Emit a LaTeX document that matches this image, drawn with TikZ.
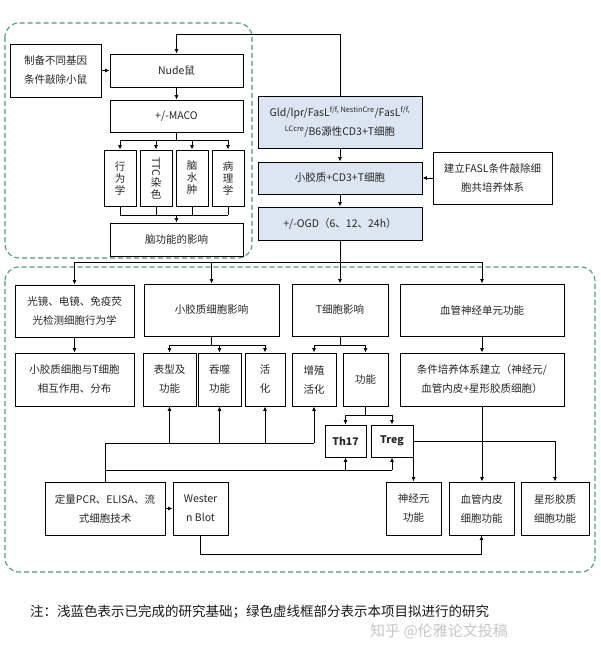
\documentclass[tikz,border=0pt]{standalone}
\usepackage{fontspec}
\setmainfont{Noto Sans CJK SC}
\usepackage{graphicx}
\usetikzlibrary{arrows.meta}
\definecolor{dgreen}{HTML}{4E9A80}
\definecolor{lblue}{HTML}{DCE6F2}
\begin{document}
\begin{tikzpicture}[x=1pt,y=-1pt,
  box/.style={draw=black, line width=0.9pt, fill=white, inner sep=1pt, align=center,
    text=black!85, font=\fontsize{10.5}{19}\selectfont},
  vbox/.style={box, font=\fontsize{10.5}{12}\selectfont},
  blue/.style={box, fill=lblue},
  sz/.style 2 args={minimum width=#1pt, minimum height=#2pt},
  ln/.style={line width=0.9pt, draw=black},
  arr/.style={ln, -{Latex[length=4.5pt,width=4pt]}},
  grp/.style={draw=dgreen, line width=1.1pt, dash pattern=on 5pt off 3pt, rounded corners=14pt}
]
\fill[white] (0,0) rectangle (600,652);
\useasboundingbox (0,0) rectangle (600,652);

% dashed groups
\draw[grp] (5,23) rectangle (252,258);
\draw[grp] (5,267) rectangle (595,572);

% top-left group
\node[box, sz={91}{53}] (gen) at (55.5,70.5) {制备不同基因\\条件敲除小鼠};
\node[box, sz={133}{33}] (nude) at (176.5,70.5) {Nude鼠};
\node[box, sz={133}{32}] (maco) at (176.5,116) {+/-MACO};
\node[vbox, sz={32}{56}] (v1) at (120,178) {行\\为\\学};
\node[vbox, sz={32}{56}] (v2) at (156,178) {\rotatebox{-90}{TTC}\\染\\色};
\node[vbox, sz={32}{56}] (v3) at (192,178) {脑\\水\\肿};
\node[vbox, sz={32}{56}] (v4) at (228,178) {病\\理\\学};
\node[box, sz={133}{33}] (brain) at (176.5,239.5) {脑功能的影响};

% blue column
\node[blue, sz={164}{52}] (gld) at (340,122) {Gld/lpr/FasL\textsuperscript{f/f, NestinCre}/FasL\textsuperscript{f/f,}\\\textsuperscript{LCcre}/B6源性CD3+T细胞};
\node[blue, sz={164}{32}] (mg) at (340,178) {小胶质+CD3+T细胞};
\node[blue, sz={164}{33}] (ogd) at (340,223.5) {+/-OGD（6、12、24h）};
\node[box, sz={119}{52}] (fasl) at (492.5,178) {建立FASL条件敲除细\\胞共培养体系};

% row 1
\node[box, sz={119}{52}] (r1a) at (74.5,311) {光镜、电镜、免疫荧\\光检测细胞行为学};
\node[box, sz={135}{52}] (r1b) at (211.5,310) {小胶质细胞影响};
\node[box, sz={96}{52}] (r1c) at (340,310) {T细胞影响};
\node[box, sz={164}{52}] (r1d) at (482,310) {血管神经单元功能};

% row 2
\node[box, sz={119}{53}] (r2a) at (74.5,379.5) {小胶质细胞与T细胞\\相互作用、分布};
\node[box, sz={53}{53}] (r2b) at (169.5,379.5) {表型及\\功能};
\node[box, sz={43}{53}] (r2c) at (219.5,379.5) {吞噬\\功能};
\node[box, sz={40}{53}] (r2d) at (265,379.5) {活\\化};
\node[box, sz={44}{53}] (r2e) at (314,379.5) {增殖\\活化};
\node[box, sz={45}{53}] (r2f) at (365.5,379.5) {功能};
\node[box, sz={164}{53}] (r2g) at (482,379.5) {条件培养体系建立（神经元/\\血管内皮+星形胶质细胞）};

% Th17 / Treg
\node[box, sz={41}{32}, font=\fontsize{10.5}{12}\selectfont\bfseries] (th17) at (345.5,441) {Th17};
\node[box, sz={42}{32}, font=\fontsize{10.5}{12}\selectfont\bfseries] (treg) at (392,441) {Treg};

% bottom row
\node[box, sz={55}{53}] (neu) at (413.5,508.5) {神经元\\功能};
\node[box, sz={65}{53}] (endo) at (481.5,508.5) {血管内皮\\细胞功能};
\node[box, sz={68}{53}] (astro) at (555,508.5) {星形胶质\\细胞功能};
\node[box, sz={120}{53}] (pcr) at (105,508.5) {定量PCR、ELISA、流\\式细胞技术};
\node[box, sz={55}{53}] (wb) at (200.5,508.5) {Wester\\n Blot};

% connectors top-left
\draw[arr] (gld.north) -- (340,34) -| (nude.north);
\draw[arr] (gen.east) -- (nude.west);
\draw[arr] (nude.south) -- (maco.north);
\coordinate (b1) at (176.5,140);
\draw[ln] (maco.south) -- (b1);
\draw[ln] (v1.north |- b1) -- (v4.north |- b1);
\foreach \v in {v1,v2,v3,v4} \draw[arr] (\v.north |- b1) -- (\v.north);
\coordinate (b2) at (176.5,215);
\foreach \v in {v1,v2,v3,v4} \draw[ln] (\v.south) -- (\v.south |- b2);
\draw[ln] (v1.south |- b2) -- (v4.south |- b2);
\draw[arr] (b2) -- (brain.north);

% blue column
\draw[arr] (gld.south) -- (mg.north);
\draw[arr] (mg.south) -- (ogd.north);
\draw[arr] (fasl.west) -- (mg.east);

% bus to row 1
\coordinate (b3) at (340,262);
\draw[ln] (ogd.south) -- (b3);
\draw[ln] (r1a.north |- b3) -- (r1d.north |- b3);
\foreach \v in {r1a,r1b,r1c,r1d} \draw[arr] (\v.north |- b3) -- (\v.north);

% row1 -> row2
\draw[arr] (r1a.south) -- (r2a.north);
\coordinate (b4) at (211.5,345);
\draw[ln] (r1b.south) -- (b4);
\draw[ln] (r2b.north |- b4) -- (r2d.north |- b4);
\foreach \v in {r2b,r2c,r2d} \draw[arr] (\v.north |- b4) -- (\v.north);
\coordinate (b5) at (340,345);
\draw[ln] (r1c.south) -- (b5);
\draw[ln] (r2e.north |- b5) -- (r2f.north |- b5);
\foreach \v in {r2e,r2f} \draw[arr] (\v.north |- b5) -- (\v.north);
\draw[arr] (r1d.south) -- (r2g.north);

% function -> Th17/Treg
\coordinate (b6) at (365.5,415);
\draw[ln] (r2f.south) -- (b6);
\draw[ln] (th17.north |- b6) -- (treg.north |- b6);
\foreach \v in {th17,treg} \draw[arr] (\v.north |- b6) -- (\v.north);

% Treg -> neuron / astro ; conditioned -> endothelium
\draw[arr] (treg.east) -| (astro.north);
\draw[arr] (treg.east -| neu.north) -- (neu.north);
\draw[arr] (r2g.south) -- (r2g.south |- endo.north);

% PCR buses
\coordinate (b7) at (105,443);
\coordinate (b8) at (105,470);
\draw[ln] (pcr.north) -- (b7);
\draw[ln] (b7) -- (r2e.south |- b7);
\foreach \v in {r2b,r2c,r2d,r2e} \draw[arr] (\v.south |- b7) -- (\v.south);
\draw[ln] (b8) -- (treg.south |- b8);
\foreach \v in {th17,treg} \draw[arr] (\v.south |- b8) -- (\v.south);
\draw[arr] (pcr.east) -- (wb.west);
\draw[arr] (wb.south) -- (200.5,554) -| (endo.south);

% note
\node[anchor=west, inner sep=0pt, text=black!90, font=\fontsize{13.5}{15}\selectfont] (note) at (30,612) {注：浅蓝色表示已完成的研究基础；绿色虚线框部分表示本项目拟进行的研究};
\node[inner sep=0pt, text=black!22, font=\fontsize{15}{17}\selectfont] (wm) at (439,631) {知乎 @伦雅论文投稿};
\end{tikzpicture}
\end{document}
